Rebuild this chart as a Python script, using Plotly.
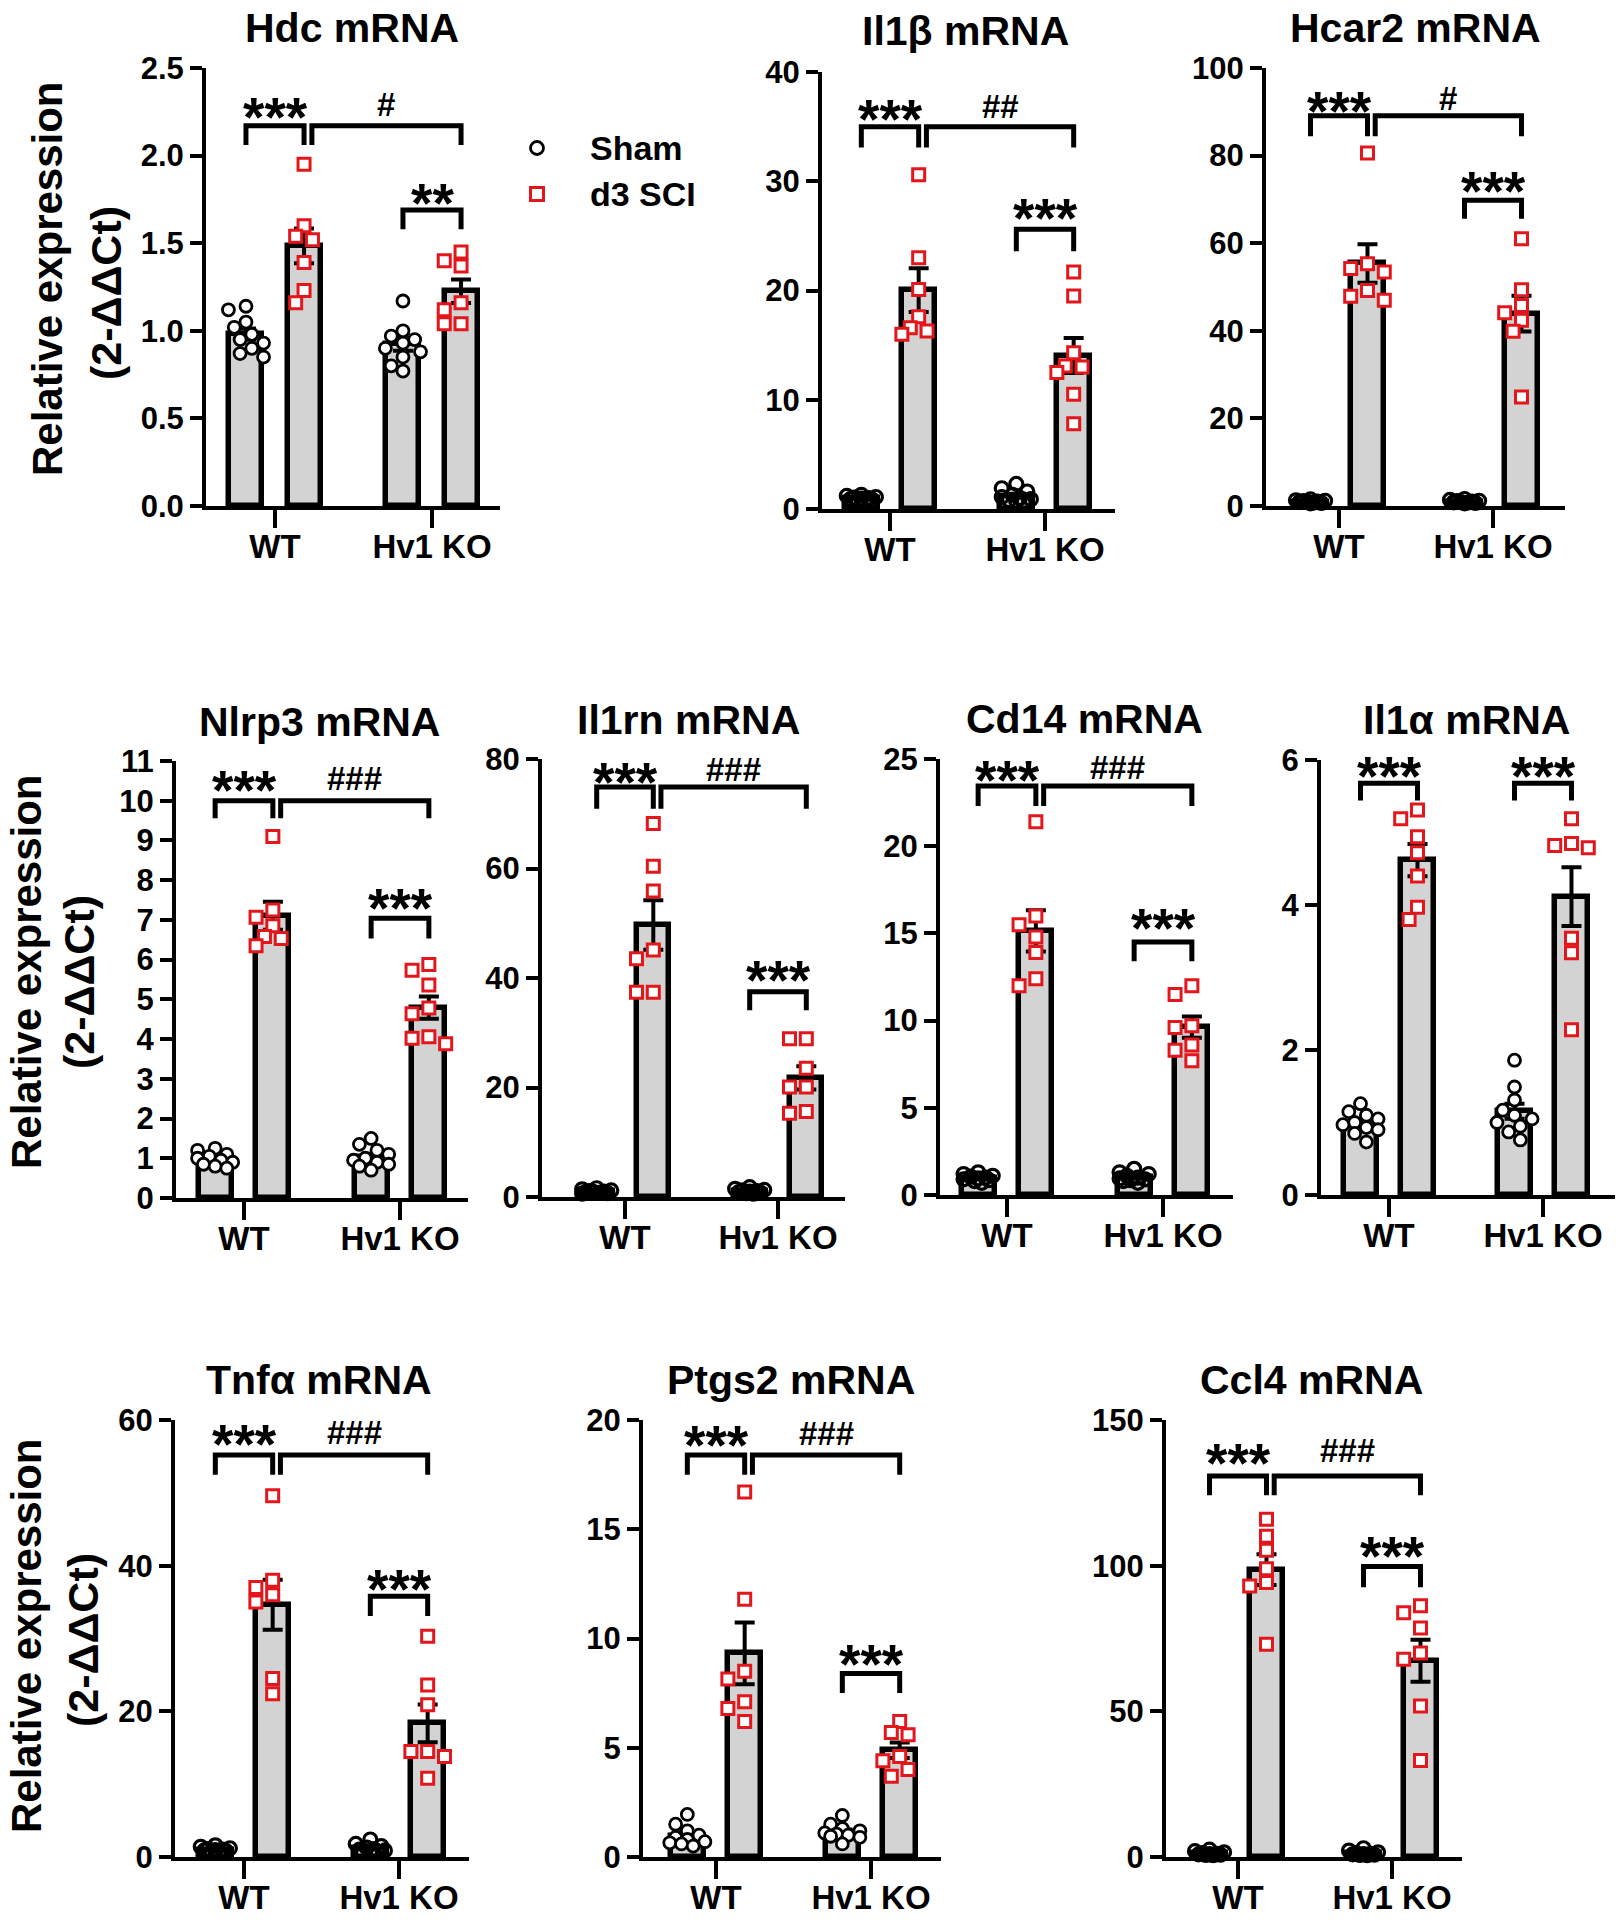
import plotly.graph_objects as go

W, H = 1624, 1920
FONT = "Liberation Sans, Arial, sans-serif"

# ---------------- data ----------------
groups = ["WT", "Hv1 KO"]
series_names = ["Sham", "d3 SCI"]

titles = ["Hdc mRNA", "Il1β mRNA", "Hcar2 mRNA", "Nlrp3 mRNA", "Il1rn mRNA",
          "Cd14 mRNA", "Il1α mRNA", "Tnfα mRNA", "Ptgs2 mRNA", "Ccl4 mRNA"]

hdc_wt_sham = [1.14, 1.12, 1.05, 1.02, 0.98, 0.95, 0.93, 0.90, 0.87, 0.85]
hdc_wt_sci = [1.95, 1.60, 1.54, 1.52, 1.39, 1.23, 1.16]
hdc_ko_sham = [1.17, 1.00, 0.97, 0.95, 0.93, 0.90, 0.88, 0.85, 0.80, 0.77]
hdc_ko_sci = [1.45, 1.40, 1.37, 1.16, 1.12, 1.04, 1.04]

il1b_wt_sham = [1.3, 1.2, 1.1, 1.05, 1.0, 0.95, 0.9, 0.85, 0.8, 0.75]
il1b_wt_sci = [30.6, 23.0, 20.1, 17.6, 16.6, 16.0, 16.3]
il1b_ko_sham = [2.3, 1.9, 1.6, 1.3, 1.1, 1.0, 0.9, 0.8, 0.7, 0.6]
il1b_ko_sci = [21.7, 19.5, 14.3, 13.1, 12.5, 13.0, 10.5, 7.8]

hcar2_wt_sham = [1.5, 1.3, 1.2, 1.1, 1.0, 0.95, 0.9, 0.8, 0.7, 0.6]
hcar2_wt_sci = [80.6, 55.3, 54.2, 53.4, 49.2, 47.9, 47.0]
hcar2_ko_sham = [1.6, 1.4, 1.2, 1.1, 1.0, 0.9, 0.85, 0.8, 0.7, 0.6]
hcar2_ko_sci = [61.0, 49.4, 45.8, 44.1, 42.4, 39.9, 24.9]

nlrp3_wt_sham = [1.25, 1.2, 1.1, 1.05, 1.0, 0.95, 0.9, 0.85, 0.8, 0.75]
nlrp3_wt_sci = [9.1, 7.25, 7.07, 6.85, 6.58, 6.53, 6.35]
nlrp3_ko_sham = [1.5, 1.35, 1.2, 1.1, 1.0, 0.95, 0.9, 0.85, 0.8, 0.7]
nlrp3_ko_sci = [5.88, 5.73, 5.36, 4.78, 4.64, 4.06, 4.02, 3.88]

il1rn_wt_sham = [1.6, 1.4, 1.2, 1.1, 1.0, 0.95, 0.9, 0.8, 0.7, 0.6]
il1rn_wt_sci = [68.2, 60.4, 55.9, 45.1, 43.5, 37.4, 37.4]
il1rn_ko_sham = [1.8, 1.5, 1.3, 1.2, 1.1, 1.0, 0.9, 0.8, 0.7, 0.6]
il1rn_ko_sci = [28.9, 28.9, 23.5, 20.1, 20.1, 15.6, 15.3]

cd14_wt_sham = [1.3, 1.2, 1.1, 1.05, 1.0, 0.95, 0.9, 0.85, 0.8, 0.7]
cd14_wt_sci = [21.4, 16.0, 15.5, 14.8, 13.9, 12.4, 12.0]
cd14_ko_sham = [1.5, 1.3, 1.2, 1.1, 1.0, 0.95, 0.9, 0.85, 0.8, 0.7]
cd14_ko_sci = [12.0, 11.5, 9.7, 9.6, 8.6, 8.3, 7.7]

il1a_wt_sham = [1.26, 1.15, 1.1, 1.05, 1.0, 0.97, 0.93, 0.9, 0.85, 0.73]
il1a_wt_sci = [5.31, 5.19, 4.94, 4.72, 4.40, 3.97, 3.80]
il1a_ko_sham = [1.86, 1.49, 1.31, 1.17, 1.1, 1.05, 1.0, 0.95, 0.87, 0.76]
il1a_ko_sci = [5.19, 4.85, 4.82, 4.79, 3.54, 3.34, 2.28]

tnfa_wt_sham = [1.6, 1.4, 1.2, 1.1, 1.0, 0.95, 0.9, 0.8, 0.7, 0.6]
tnfa_wt_sci = [49.6, 38.0, 37.0, 36.0, 35.0, 24.5, 22.4]
tnfa_ko_sham = [2.4, 1.8, 1.5, 1.3, 1.1, 1.0, 0.9, 0.8, 0.7, 0.6]
tnfa_ko_sci = [30.3, 23.6, 20.9, 14.5, 14.5, 13.8, 10.8]

ptgs2_wt_sham = [1.95, 1.5, 1.2, 1.0, 0.9, 0.8, 0.7, 0.65, 0.6, 0.5]
ptgs2_wt_sci = [16.7, 11.8, 8.5, 8.15, 7.1, 6.8, 6.2]
ptgs2_ko_sham = [1.9, 1.5, 1.3, 1.2, 1.1, 1.05, 1.0, 0.95, 0.9, 0.6]
ptgs2_ko_sci = [6.2, 5.7, 5.6, 4.6, 4.4, 4.0, 3.7]

ccl4_wt_sham = [2.5, 2.0, 1.6, 1.3, 1.1, 1.0, 0.9, 0.8, 0.7, 0.6]
ccl4_wt_sci = [115.9, 110.1, 105.3, 98.9, 94.2, 93.0, 73.0]
ccl4_ko_sham = [3.0, 2.2, 1.6, 1.3, 1.1, 1.0, 0.9, 0.8, 0.7, 0.6]
ccl4_ko_sci = [86.2, 83.8, 78.6, 70.0, 67.9, 51.8, 33.1]

panel_data = [
    (hdc_wt_sham, hdc_wt_sci, hdc_ko_sham, hdc_ko_sci),
    (il1b_wt_sham, il1b_wt_sci, il1b_ko_sham, il1b_ko_sci),
    (hcar2_wt_sham, hcar2_wt_sci, hcar2_ko_sham, hcar2_ko_sci),
    (nlrp3_wt_sham, nlrp3_wt_sci, nlrp3_ko_sham, nlrp3_ko_sci),
    (il1rn_wt_sham, il1rn_wt_sci, il1rn_ko_sham, il1rn_ko_sci),
    (cd14_wt_sham, cd14_wt_sci, cd14_ko_sham, cd14_ko_sci),
    (il1a_wt_sham, il1a_wt_sci, il1a_ko_sham, il1a_ko_sci),
    (tnfa_wt_sham, tnfa_wt_sci, tnfa_ko_sham, tnfa_ko_sci),
    (ptgs2_wt_sham, ptgs2_wt_sci, ptgs2_ko_sham, ptgs2_ko_sci),
    (ccl4_wt_sham, ccl4_wt_sci, ccl4_ko_sham, ccl4_ko_sci),
]

y_max = [2.5, 40, 100, 11, 80, 25, 6, 60, 20, 150]
y_step = [0.5, 10, 20, 1, 20, 5, 2, 20, 5, 50]
y_fmt = [".1f", "d", "d", "d", "d", "d", "d", "d", "d", "d"]

# significance labels: (WT sham vs SCI, WT SCI vs KO SCI, KO sham vs SCI)
sig_labels = [
    ("***", "#", "**"), ("***", "##", "***"), ("***", "#", "***"),
    ("***", "###", "***"), ("***", "###", "***"), ("***", "###", "***"),
    ("***", None, "***"), ("***", "###", "***"), ("***", "###", "***"),
    ("***", "###", "***"),
]

# ---------------- layout geometry (pixels) ----------------
# x0, x1, ytop, ybot, WT tick px, KO tick px
geom = [
    (206, 500, 68, 506, 275, 432),
    (822, 1115, 72, 509, 890, 1045),
    (1266, 1565, 68, 506, 1339, 1493),
    (176, 468, 761, 1198, 244, 400),
    (542, 845, 759, 1197, 625, 778),
    (940, 1233, 759, 1195, 1007, 1163),
    (1321, 1615, 760, 1195, 1389, 1543),
    (175, 469, 1420, 1857, 244, 399),
    (643, 941, 1420, 1857, 716, 871),
    (1166, 1462, 1420, 1857, 1238, 1392),
]
title_pos = [(352, 28), (965, 31), (1415, 28), (319, 722), (688, 720),
             (1084, 719), (1466, 720), (319, 1380), (791, 1380), (1311, 1380)]
# bracket heights in data units: (top, leg-bottom, text centre) for WT/hash and KO
bracket_y = [
    ((2.17, 2.06, 2.29), (1.69, 1.58, 1.80)),
    ((35.0, 33.1, 36.8), (25.6, 23.6, 27.7)),
    ((89.1, 84.4, 93.0), (69.8, 65.6, 74.7)),
    ((10.0, 9.56, 10.57), (7.04, 6.53, 7.6)),
    ((74.9, 70.9, 78.0), (37.5, 34.1, 41.8)),
    ((23.45, 22.3, 24.5), (14.5, 13.4, 16.0)),
    ((5.68, 5.44, 5.95), (5.68, 5.44, 5.95)),
    ((55.2, 52.5, 58.3), (35.8, 33.1, 38.5)),
    ((18.4, 17.5, 19.4), (8.4, 7.5, 9.4)),
    ((130.8, 124.2, 139.4), (99.7, 92.6, 107.6)),
]

OFF = 0.185
BARW = 0.21
SHAM_COLOR = "black"
SCI_COLOR = "#e3161c"


def mean(v):
    return sum(v) / len(v)


def sem(v):
    m = mean(v)
    n = len(v)
    sd = (sum((a - m) ** 2 for a in v) / (n - 1)) ** 0.5
    return sd / n ** 0.5


def swarm(vals, px_x, px_y, diam=13.0, kmax=3, step_frac=0.55):
    order = sorted(range(len(vals)), key=lambda i: -vals[i])
    placed = []
    offs = [0.0] * len(vals)
    step = diam * step_frac
    cands = [0]
    for k in range(1, kmax + 1):
        cands += [-k, k]
    for i in order:
        yp = vals[i] * px_y
        chosen = None
        bestd, bestx = -1, 0
        for c in cands:
            xp = c * step
            d = min([((xp - a) ** 2 + (yp - b) ** 2) ** 0.5 for a, b in placed], default=1e9)
            if d >= diam * 0.95:
                chosen = xp
                break
            if d > bestd:
                bestd, bestx = d, xp
        if chosen is None:
            chosen = bestx
        placed.append((chosen, yp))
        offs[i] = chosen / px_x
    return offs


fig = go.Figure()
layout = dict(
    width=W, height=H, margin=dict(l=0, r=0, t=0, b=0, pad=0, autoexpand=False),
    paper_bgcolor="white", plot_bgcolor="white", showlegend=False,
    font=dict(family=FONT, color="black"),
    bargap=0,
)
shapes = []
annotations = []

for p in range(10):
    n = "" if p == 0 else str(p + 1)
    xa, ya = "x" + n, "y" + n
    x0, x1, ytop, ybot, wtp, kop = geom[p]
    pxu = float(kop - wtp)
    xr = [(x0 - wtp) / pxu, (x1 - wtp) / pxu]
    ymx = y_max[p]
    px_y = (ybot - ytop) / ymx
    wt_sham, wt_sci, ko_sham, ko_sci = panel_data[p]
    sets = [(wt_sham, 0 - OFF, "sham"), (wt_sci, 0 + OFF, "sci"),
            (ko_sham, 1 - OFF, "sham"), (ko_sci, 1 + OFF, "sci")]
    # bars
    fig.add_trace(go.Bar(
        x=[s[1] for s in sets], y=[mean(s[0]) for s in sets], width=BARW,
        marker=dict(color="#d3d3d3", line=dict(color="black", width=5.5)),
        error_y=dict(type="data", array=[sem(s[0]) for s in sets], symmetric=True,
                     color="black", thickness=4, width=10),
        xaxis=xa, yaxis=ya, hoverinfo="skip"))
    # points
    for vals, xc, kind in sets:
        if kind == "sham":
            if px_y < 20:
                offs = swarm(vals, pxu, px_y, kmax=4, step_frac=0.28)
                mk = dict(symbol="circle-open", size=13, color=SHAM_COLOR,
                          line=dict(width=3.2))
            else:
                offs = swarm(vals, pxu, px_y, kmax=3, step_frac=0.45)
                mk = dict(symbol="circle", size=12, color="white",
                          line=dict(color=SHAM_COLOR, width=2.8))
        else:
            offs = swarm(vals, pxu, px_y, diam=14.0, kmax=2, step_frac=0.6)
            mk = dict(symbol="square", size=12, color="white",
                      line=dict(color=SCI_COLOR, width=3))
        fig.add_trace(go.Scatter(
            x=[xc + o for o in offs], y=vals, mode="markers", marker=mk,
            cliponaxis=False, xaxis=xa, yaxis=ya, hoverinfo="skip"))

    ticks = []
    t = 0.0
    while t <= ymx + 1e-9:
        ticks.append(round(t, 6))
        t += y_step[p]
    layout["xaxis" + n] = dict(
        domain=[x0 / W, x1 / W], range=xr, anchor=ya, automargin=False,
        tickvals=[0, 1], ticktext=groups, ticks="outside", ticklen=18, tickwidth=4,
        ticklabelstandoff=-10,
        tickcolor="black", showline=True, linewidth=4, linecolor="black",
        showgrid=False, zeroline=False, fixedrange=True,
        tickfont=dict(family=FONT, size=33, color="black", weight="bold"))
    layout["yaxis" + n] = dict(
        domain=[1 - ybot / H, 1 - ytop / H], range=[0, ymx], anchor=xa, automargin=False,
        tickvals=ticks, tickformat=y_fmt[p], ticks="outside", ticklen=12, tickwidth=4,
        tickcolor="black", showline=True, linewidth=4, linecolor="black",
        showgrid=False, zeroline=False, fixedrange=True,
        tickfont=dict(family=FONT, size=31, color="black", weight="bold"))

    # brackets
    (bt, bl, btx), (kt, kl, ktx) = bracket_y[p]
    s1, s2, s3 = sig_labels[p]
    brk = [(-OFF, OFF, bt, bl, btx, s1), (1 - OFF, 1 + OFF, kt, kl, ktx, s3)]
    if s2:
        brk.append((OFF + 0.05, 1 + OFF, bt, bl, btx, s2))
    for xa0, xa1, yt, yl, ytx, lab in brk:
        shapes.append(dict(type="path", xref=xa, yref=ya,
                           path=f"M {xa0},{yl} L {xa0},{yt} L {xa1},{yt} L {xa1},{yl}",
                           line=dict(color="black", width=5)))
        star = lab.startswith("*")
        annotations.append(dict(
            xref=xa, yref=ya, x=(xa0 + xa1) / 2, y=ytx, text=lab, showarrow=False,
            xanchor="center", yanchor="middle", yshift=-12 if star else 0,
            font=dict(family=FONT, size=55 if star else 33, color="black", weight="bold")))

    tx, ty = title_pos[p]
    annotations.append(dict(xref="paper", yref="paper", x=tx / W, y=1 - ty / H,
                            text=titles[p], showarrow=False, xanchor="center", yanchor="middle",
                            font=dict(family=FONT, size=41, color="black", weight="bold")))

# y-axis labels for each row
ylab_pos = [((48, 279), (106, 293)), ((26, 972), (79, 982)), ((26, 1636), (83, 1640))]
for (ax1, ay1), (ax2, ay2) in ylab_pos:
    annotations.append(dict(xref="paper", yref="paper", x=ax1 / W, y=1 - ay1 / H,
                            text="Relative expression", textangle=-90, showarrow=False,
                            xanchor="center", yanchor="middle",
                            font=dict(family=FONT, size=42, color="black", weight="bold")))
    annotations.append(dict(xref="paper", yref="paper", x=ax2 / W, y=1 - ay2 / H,
                            text="(2-ΔΔCt)", textangle=-90, showarrow=False,
                            xanchor="center", yanchor="middle",
                            font=dict(family=FONT, size=43, color="black", weight="bold")))

# legend (manual, top-left panel)
lx, ly1, ly2 = 537, 148, 194
shapes.append(dict(type="circle", xref="paper", yref="paper",
                   x0=(lx - 6.5) / W, x1=(lx + 6.5) / W, y0=1 - (ly1 + 6.5) / H, y1=1 - (ly1 - 6.5) / H,
                   line=dict(color=SHAM_COLOR, width=2.8), fillcolor="white"))
shapes.append(dict(type="rect", xref="paper", yref="paper",
                   x0=(lx - 6.5) / W, x1=(lx + 6.5) / W, y0=1 - (ly2 + 6.5) / H, y1=1 - (ly2 - 6.5) / H,
                   line=dict(color=SCI_COLOR, width=3), fillcolor="white"))
for name, yy in zip(series_names, [ly1, ly2]):
    annotations.append(dict(xref="paper", yref="paper", x=588 / W, y=1 - yy / H, text=name,
                            showarrow=False, xanchor="left", yanchor="middle",
                            font=dict(family=FONT, size=34, color="black", weight="bold")))

layout["shapes"] = shapes
layout["annotations"] = annotations
fig.update_layout(**layout)

fig.write_html("out.html", config={"displayModeBar": False},
               post_script="document.body.style.margin='0';")
